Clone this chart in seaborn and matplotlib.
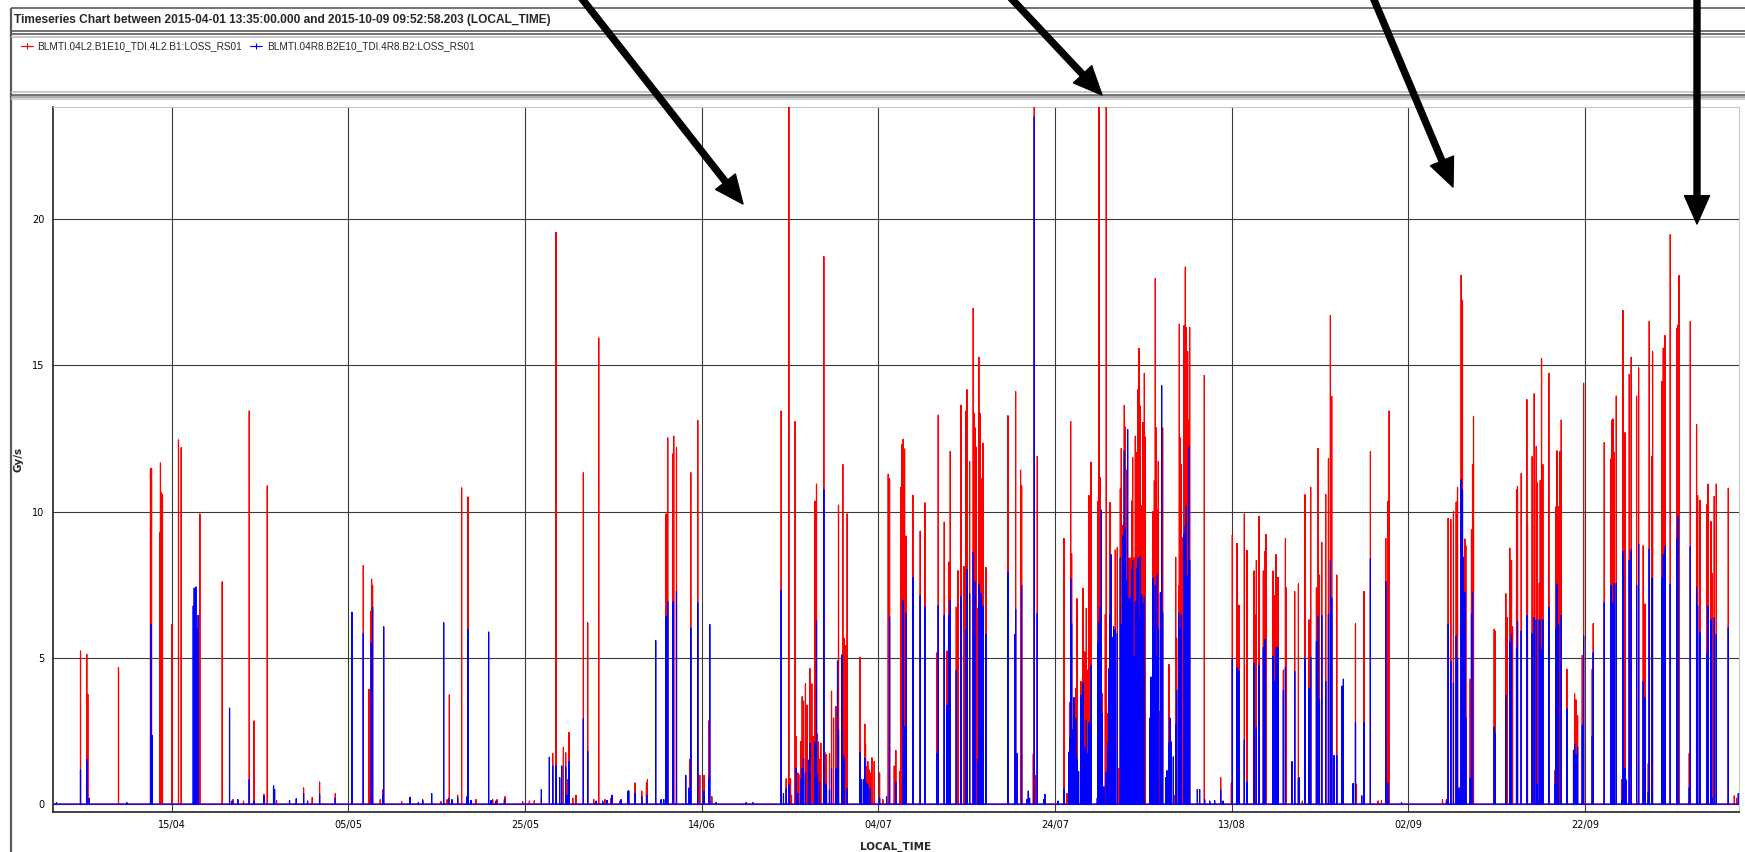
import pandas as pd
import seaborn as sns
import matplotlib.pyplot as plt
import matplotlib.dates as mdates
from matplotlib.lines import Line2D
from matplotlib.patches import FancyArrowPatch

# time span of the chart
start = pd.Timestamp('2015-04-01 13:35:00.000')
end = pd.Timestamp('2015-10-09 09:52:58.203')
origin = pd.Timestamp('2015-04-01')

title = 'Timeseries Chart between 2015-04-01 13:35:00.000 and 2015-10-09 09:52:58.203 (LOCAL_TIME)'
red_name = 'BLMTI.04L2.B1E10_TDI.4L2.B1:LOSS_RS01'
blue_name = 'BLMTI.04R8.B2E10_TDI.4R8.B2:LOSS_RS01'

# loss spikes: (days after 2015-04-01 00:00, Gy/s)
red_spikes = [
    (3.68, 5.23), (4.39, 5.12), (4.51, 3.75), (7.98, 4.67), (11.60, 11.48), (11.72, 11.48),
    (12.66, 9.27), (12.73, 11.66), (12.85, 10.64), (12.96, 10.58), (14.02, 6.14), (14.77, 12.45),
    (15.08, 12.19), (17.19, 9.92), (19.72, 7.6), (20.93, 0.15), (22.13, 0.1), (22.78, 13.44),
    (23.31, 2.84), (24.44, 0.33), (24.82, 10.88), (25.87, 0.12), (28.93, 0.55), (29.91, 0.22),
    (30.74, 0.75), (32.52, 0.35), (35.69, 8.16), (36.33, 3.92), (36.56, 6.6), (36.63, 7.69),
    (36.74, 7.48), (37.61, 0.15), (37.88, 0.48),
    (40.03, 0.08), (42.41, 0.15), (44.48, 0.08), (45.16, 0.15), (45.43, 3.73), (46.37, 0.3),
    (46.82, 10.81), (47.54, 10.5), (48.45, 0.15), (50.34, 0.15), (50.83, 0.15), (51.73, 0.25),
    (53.73, 0.08), (54.49, 0.1), (55.05, 0.12), (55.85, 0.2), (57.13, 1.73), (57.51, 19.55),
    (58.34, 1.94), (58.60, 1.75), (58.83, 0.83), (58.98, 2.45), (59.40, 0.2), (59.77, 0.3),
    (60.60, 11.33), (61.09, 6.2), (61.77, 0.15), (62.34, 15.94), (63.06, 0.15), (63.74, 0.2),
    (64.76, 0.1), (66.45, 0.72), (67.21, 0.44), (67.74, 0.72), (67.85, 0.83), (69.40, 0.08),
    (69.96, 9.92), (70.15, 12.52), (70.72, 11.97), (70.83, 12.58), (71.14, 12.2), (72.65, 1.53),
    (72.76, 11.33), (73.55, 13.12), (73.78, 0.98), (74.27, 0.98), (74.80, 2.84), (75.14, 0.25),
    (82.99, 13.44), (83.56, 0.86), (83.86, 24.5), (84.05, 0.86), (84.16, 0.3), (84.57, 13.08),
    (84.69, 2.31), (84.88, 1.06), (84.99, 1.0), (85.22, 2.14), (85.37, 3.67), (85.52, 3.52),
    (85.74, 4.11), (85.93, 3.38), (86.01, 1.44), (86.24, 4.63), (86.46, 4.11), (86.61, 2.31),
    (86.80, 10.36), (86.99, 10.94), (87.10, 2.39), (87.18, 2.12), (87.33, 1.53), (87.48, 2.08),
    (87.82, 18.72), (87.93, 1.77), (88.12, 1.69), (88.46, 1.72), (88.69, 3.86), (88.92, 2.94),
    (89.18, 3.33), (89.37, 3.88), (89.48, 10.22), (89.97, 11.61), (90.12, 5.67), (90.27, 5.41),
    (90.46, 9.92), (91.90, 5.02), (92.46, 2.73), (92.54, 2.05), (92.65, 1.27), (92.80, 1.45),
    (92.92, 1.17), (93.07, 1.06), (93.26, 1.58), (93.52, 1.45), (94.13, 1.06), (94.50, 0.15),
    (95.11, 11.28), (95.26, 11.13), (95.79, 1.3), (95.97, 1.83), (96.43, 1.11), (96.54, 10.83),
    (96.65, 12.3), (96.80, 12.47), (96.96, 12.14), (97.15, 9.16), (97.90, 10.56), (98.73, 9.33),
    (99.26, 10.3), (100.62, 5.17), (100.77, 13.3), (101.45, 9.64), (101.75, 5.23), (101.94, 8.27),
    (102.13, 12.06), (102.81, 6.73), (103.00, 7.98), (103.34, 13.64), (103.68, 8.12), (103.90, 13.44),
    (104.02, 14.17), (104.32, 11.72), (104.73, 16.95), (104.85, 13.36), (104.96, 12.86), (105.07, 12.2),
    (105.22, 6.69), (105.37, 15.28), (105.49, 13.36), (105.60, 11.14), (105.71, 10.67), (105.83, 12.34),
    (106.17, 8.09), (108.66, 13.28), (109.53, 14.11), (110.09, 11.42), (110.21, 10.88), (111.53, 1.7),
    (111.64, 24.5), (111.79, 0.98), (111.98, 11.89), (115.00, 9.08), (115.34, 0.36), (115.53, 1.53),
    (115.64, 3.48), (115.76, 13.08), (115.87, 8.55), (116.36, 3.95), (116.47, 7.02), (116.93, 4.19),
    (117.15, 7.38), (117.34, 5.2), (117.53, 6.69), (117.64, 4.58), (117.83, 10.55), (118.06, 11.69),
    (118.85, 10.36), (118.96, 24.5), (119.11, 11.17), (119.34, 3.77), (119.68, 6.48), (119.79, 24.5),
    (119.94, 3.09), (120.21, 10.31), (120.81, 8.69), (121.04, 8.77), (121.23, 1.22), (121.38, 10.78),
    (121.49, 12.16), (121.68, 9.53), (121.83, 13.63), (121.95, 12.89), (122.10, 11.42), (122.36, 8.41),
    (122.51, 8.41), (122.66, 10.36), (122.78, 11.84), (122.93, 8.41), (123.08, 12.58), (123.23, 12.03),
    (123.38, 14.17), (123.49, 15.58), (123.64, 13.61), (123.80, 10.2), (123.95, 13.05), (124.10, 14.73),
    (124.21, 12.55), (124.97, 1.81), (125.08, 10.0), (125.23, 11.06), (125.34, 17.97), (125.46, 12.86),
    (125.57, 10.05), (125.68, 11.72), (125.80, 3.17), (126.17, 12.86), (126.89, 4.77), (127.00, 2.2),
    (127.15, 2.0), (127.53, 0.28), (127.65, 8.44), (127.76, 5.67), (127.99, 7.47), (128.06, 16.41),
    (128.17, 12.52), (128.29, 11.61), (128.40, 9.11), (128.59, 16.36), (128.74, 18.36), (128.85, 16.3),
    (129.00, 15.47), (129.12, 13.13), (129.23, 16.3), (130.89, 14.66), (132.74, 0.9), (133.95, 0.72),
    (134.06, 9.19), (134.59, 8.91), (134.82, 6.8), (135.42, 9.92), (135.72, 8.67), (136.52, 7.97),
    (136.59, 6.48), (136.78, 8.33), (137.08, 9.84), (137.57, 7.97), (137.76, 8.64), (137.88, 9.22),
    (138.67, 7.97), (138.82, 7.13), (139.01, 8.53), (139.23, 7.75), (139.84, 4.58), (140.07, 9.08),
    (140.18, 7.39), (141.12, 7.27), (141.54, 7.53), (141.99, 0.1), (142.29, 10.58), (142.75, 6.3),
    (142.93, 10.83), (143.58, 7.39), (143.77, 12.16), (143.92, 7.83), (144.18, 8.95), (144.63, 10.59),
    (144.94, 11.81), (145.16, 16.7), (145.31, 13.94), (145.88, 7.83), (148.00, 6.17), (148.11, 0.67),
    (148.97, 7.27), (149.69, 12.05), (150.56, 0.1), (150.94, 0.12), (151.43, 9.08), (151.58, 2.23),
    (151.69, 10.36), (151.81, 13.44),
    (157.85, 0.15), (158.30, 0.15), (158.49, 9.77), (158.79, 9.73), (159.09, 10.0), (159.40, 10.33),
    (159.55, 10.83), (159.96, 18.08), (160.11, 17.23), (160.38, 9.06), (160.49, 8.83), (160.98, 4.27),
    (161.13, 9.38), (161.25, 11.61), (161.36, 13.25), (163.70, 5.98), (163.81, 5.91), (165.02, 7.19),
    (165.17, 6.38), (165.47, 8.75), (165.66, 8.33), (165.78, 6.06), (166.23, 10.75), (166.34, 10.86),
    (166.76, 11.3), (167.40, 13.83), (167.47, 9.63), (168.00, 11.88), (168.23, 14.03), (168.46, 12.23),
    (168.57, 10.98), (168.80, 7.55), (168.91, 11.06), (169.06, 15.23), (169.21, 11.61), (169.89, 14.73),
    (170.57, 1.14), (170.68, 10.16), (170.80, 12.08), (170.99, 10.16), (171.14, 12.05), (171.29, 13.13),
    (171.93, 4.61), (172.80, 3.77), (172.95, 3.56), (173.14, 3.02), (173.67, 5.08), (173.82, 14.39),
    (174.80, 4.61), (174.91, 6.17), (176.16, 12.36), (176.91, 11.8), (177.03, 13.13), (177.14, 13.17),
    (177.29, 12.03), (177.52, 13.95), (178.12, 0.83), (178.27, 16.88), (178.50, 12.7), (178.99, 14.69),
    (179.21, 15.28), (179.82, 13.95), (180.05, 14.92), (180.57, 8.83), (180.76, 6.84), (181.14, 1.38),
    (181.25, 16.5), (181.56, 11.89), (181.63, 15.47), (182.69, 14.45), (182.84, 15.59), (183.03, 16.02),
    (183.63, 19.47), (184.39, 16.27), (184.50, 16.38), (184.61, 18.08), (185.78, 1.73), (185.90, 16.5),
    (186.61, 12.98), (186.73, 10.55), (186.99, 10.39), (187.75, 10.23), (187.90, 10.94), (188.24, 9.66),
    (188.35, 7.89), (188.61, 10.52), (188.84, 10.94), (190.20, 10.8), (190.88, 0.28), (191.14, 0.2),
]

blue_spikes = [
    (0.96, 0.05), (3.68, 1.17), (4.39, 1.53), (4.66, 0.2), (8.92, 0.05), (11.64, 6.14), (11.79, 2.34),
    (16.44, 6.77), (16.55, 7.38), (16.74, 7.42), (16.89, 6.0), (17.00, 6.45), (20.55, 3.28), (20.81, 0.1),
    (21.49, 0.15), (22.78, 0.83), (23.31, 0.1), (24.44, 0.25), (25.53, 0.62), (25.65, 0.5), (27.34, 0.12),
    (28.10, 0.18), (28.93, 0.36), (29.38, 0.1), (30.74, 0.33), (32.52, 0.2), (34.40, 6.56), (35.69, 5.83),
    (36.59, 5.5), (36.74, 6.73), (37.88, 0.3), (38.00, 6.06),
    (40.97, 0.23), (41.92, 0.05), (42.41, 0.12), (43.43, 0.36), (44.79, 6.2), (45.35, 0.2), (45.73, 0.15),
    (46.37, 0.2), (47.43, 0.25), (47.54, 5.98), (47.88, 0.12), (49.88, 5.88), (50.15, 0.12), (50.71, 0.1),
    (51.66, 0.15), (55.85, 0.5), (56.75, 1.6), (57.13, 1.3), (57.51, 1.3), (57.92, 0.9), (58.15, 1.3),
    (58.60, 1.27), (58.79, 0.3), (58.98, 1.45), (60.60, 2.92), (61.09, 1.8), (62.04, 0.1), (62.79, 0.1),
    (63.28, 0.12), (63.85, 0.3), (64.87, 0.15), (65.62, 0.44), (65.74, 0.45), (66.45, 0.36), (67.21, 0.25),
    (67.78, 0.3), (68.79, 5.59), (69.40, 0.15), (69.70, 0.15), (69.96, 6.42), (70.15, 6.92), (70.76, 6.92),
    (71.14, 7.27), (72.19, 0.98), (72.57, 0.55), (72.76, 6.02), (73.55, 6.88), (74.27, 0.44), (74.80, 0.86),
    (74.91, 6.14), (75.63, 0.05),
    (79.03, 0.05), (79.78, 0.05), (82.99, 7.31), (83.25, 0.36), (83.56, 0.52), (83.86, 0.67), (84.69, 1.22),
    (84.88, 0.36), (85.22, 0.83), (85.37, 1.22), (85.52, 1.56), (85.74, 1.06), (86.08, 1.5), (86.24, 2.08),
    (86.80, 2.11), (86.99, 6.28), (87.10, 1.0), (87.33, 0.72), (87.82, 10.75), (87.93, 0.72), (88.12, 0.67),
    (88.46, 0.48), (88.69, 1.22), (89.18, 1.2), (89.37, 4.89), (89.48, 2.55), (89.86, 5.1), (89.97, 1.67),
    (90.12, 1.58), (90.46, 0.52), (91.90, 1.77), (92.09, 0.83), (92.31, 0.83), (92.46, 1.56), (92.65, 0.72),
    (92.80, 0.67), (93.07, 0.52), (94.13, 0.2), (94.92, 0.25), (95.26, 6.4), (95.97, 0.75), (96.80, 6.95),
    (96.96, 2.64), (97.15, 6.53), (97.90, 7.75), (98.73, 7.13), (99.26, 6.75), (100.62, 1.73), (100.77, 6.78),
    (101.45, 6.45), (101.75, 3.38), (101.94, 6.45), (102.13, 6.95), (102.81, 4.58), (103.34, 7.11),
    (103.90, 5.95), (104.02, 8.02), (104.32, 7.2), (104.73, 8.61), (104.85, 5.8), (104.96, 7.59),
    (105.22, 1.53), (105.37, 7.5), (105.49, 2.47), (105.60, 7.2), (105.83, 6.77), (106.17, 5.8),
    (108.66, 7.92), (109.45, 5.8), (109.53, 6.66), (109.72, 1.73), (110.21, 7.48), (110.81, 0.15),
    (110.96, 0.44), (111.11, 0.2), (111.64, 23.5), (111.98, 6.52), (112.70, 0.15), (112.85, 0.33),
    (114.32, 0.1), (115.00, 0.52), (115.53, 1.77), (115.64, 2.27), (115.76, 7.7), (115.87, 6.17),
    (116.02, 2.55), (116.13, 3.64), (116.36, 2.94), (116.47, 1.53), (116.66, 1.11), (116.93, 3.72),
    (117.15, 4.14), (117.34, 1.92), (117.53, 2.86), (117.64, 1.73), (117.83, 2.78), (118.06, 4.73),
    (118.77, 0.2), (118.85, 5.52), (118.96, 6.22), (119.11, 6.73), (119.23, 10.05), (119.34, 3.09),
    (119.53, 0.59), (119.79, 1.09), (119.94, 2.08), (120.10, 4.63), (120.21, 6.48), (120.32, 8.53),
    (120.47, 5.7), (120.62, 6.06), (120.81, 5.98), (121.04, 5.83), (121.38, 8.41), (121.49, 6.14),
    (121.68, 9.16), (121.83, 12.08), (121.95, 9.38), (122.10, 7.63), (122.21, 12.81), (122.36, 7.0),
    (122.51, 7.05), (122.66, 8.02), (122.78, 8.33), (122.93, 5.05), (123.08, 6.92), (123.23, 8.05),
    (123.38, 8.41), (123.49, 6.34), (123.64, 8.48), (123.80, 7.16), (123.95, 6.84), (124.10, 7.08),
    (124.74, 2.94), (124.85, 4.34), (125.08, 7.73), (125.23, 6.06), (125.34, 7.47), (125.46, 5.05),
    (125.57, 7.86), (125.68, 5.98), (125.91, 7.23), (126.06, 14.31), (126.17, 6.53), (126.51, 0.9),
    (126.66, 1.14), (126.89, 2.08), (127.00, 2.94), (127.15, 2.12), (127.38, 1.61), (127.65, 2.73),
    (127.76, 3.88), (127.99, 6.53), (128.06, 4.89), (128.17, 5.98), (128.29, 6.48), (128.59, 9.22),
    (128.74, 9.5), (128.85, 10.2), (129.00, 7.81), (129.12, 12.23), (129.23, 8.33), (130.10, 0.5),
    (130.36, 0.5), (130.93, 0.15), (131.50, 0.1), (132.06, 0.12), (132.74, 0.48), (133.01, 0.1),
    (134.06, 4.97), (134.59, 4.66), (134.82, 4.55), (135.42, 2.19), (135.72, 0.75), (136.52, 4.81),
    (136.78, 2.63), (137.08, 4.73), (137.57, 5.36), (137.76, 5.64), (138.67, 5.05), (138.82, 4.19),
    (139.01, 5.36), (139.23, 5.36), (139.84, 3.88), (140.07, 4.66), (140.82, 1.45), (141.12, 4.53),
    (141.54, 0.88), (141.65, 0.9), (142.29, 4.97), (142.75, 3.95), (142.93, 5.02), (143.58, 5.56),
    (143.77, 6.42), (143.92, 3.56), (144.18, 6.45), (144.63, 4.19), (144.94, 6.48), (145.16, 8.33),
    (145.31, 7.05), (145.58, 1.66), (145.88, 1.66), (146.48, 4.03), (146.63, 4.27), (147.73, 0.7),
    (148.00, 2.78), (148.71, 0.28), (148.97, 2.78), (149.69, 8.38), (151.43, 7.6), (151.69, 0.72),
    (153.21, 0.05), (158.30, 0.1), (158.49, 6.14), (158.79, 4.89), (159.09, 4.14), (159.40, 5.75),
    (159.55, 4.97), (159.74, 0.55), (159.96, 11.09), (160.11, 10.75), (160.19, 8.44), (160.38, 7.23),
    (160.49, 2.94), (160.98, 0.88), (161.13, 6.5), (161.25, 7.23), (163.70, 2.63), (163.81, 2.42),
    (165.02, 3.72), (165.47, 5.55), (165.66, 5.83), (166.23, 5.33), (166.34, 6.25), (166.76, 5.91),
    (167.40, 6.45), (168.00, 5.83), (168.23, 6.38), (168.46, 6.3), (168.57, 0.67), (168.80, 6.3),
    (168.91, 6.27), (169.06, 5.28), (169.21, 6.3), (169.89, 6.73), (170.57, 0.67), (170.68, 5.98),
    (170.80, 7.52), (170.99, 6.14), (171.29, 6.45), (171.93, 3.25), (172.68, 1.84), (172.80, 2.05),
    (172.95, 1.69), (173.14, 1.95), (173.67, 2.7), (173.82, 5.75), (174.80, 2.31), (174.91, 5.17),
    (176.16, 6.88), (176.91, 7.47), (177.03, 6.88), (177.14, 6.77), (177.29, 7.55), (177.52, 7.55),
    (178.12, 0.12), (178.27, 8.64), (178.50, 1.22), (178.61, 0.83), (178.99, 8.33), (179.21, 8.69),
    (179.82, 7.47), (180.05, 8.88), (180.57, 4.19), (180.76, 3.64), (181.14, 0.41), (181.25, 8.72),
    (181.56, 7.73), (182.69, 7.75), (182.84, 8.53), (183.03, 8.8), (183.63, 7.52), (184.39, 9.06),
    (184.50, 9.84), (185.78, 0.55), (185.90, 8.8), (186.61, 7.39), (186.73, 6.77), (186.99, 5.88),
    (187.75, 5.12), (187.90, 6.77), (188.24, 6.3), (188.35, 0.2), (188.61, 6.38), (188.84, 5.8),
    (190.20, 6.03), (191.33, 0.36), (191.38, 0.36),
]

tick_dates = ['2015-04-15', '2015-05-05', '2015-05-25', '2015-06-14', '2015-07-04',
              '2015-07-24', '2015-08-13', '2015-09-02', '2015-09-22']
y_ticks = [0, 5, 10, 15, 20]


def spike_frame(spikes):
    # each spike goes up from the zero line and straight back down
    rows = [(start, 0.0)]
    for day, gy in sorted(spikes):
        t = origin + pd.to_timedelta(day, unit='D')
        rows += [(t, 0.0), (t, gy), (t, 0.0)]
    rows.append((end, 0.0))
    return pd.DataFrame(rows, columns=['LOCAL_TIME', 'Gy/s'])


red_df = spike_frame(red_spikes)
blue_df = spike_frame(blue_spikes)

sns.set_style('white')
plt.rcParams['font.family'] = ['DejaVu Sans']

W, H = 1745, 852
fig = plt.figure(figsize=(W / 100, H / 100), dpi=100)


def fx(x):
    return x / W


def fy(y):
    return 1 - y / H


ax = fig.add_axes([fx(53), fy(812), fx(1739) - fx(53), fy(107) - fy(812)])

sns.lineplot(data=red_df, x='LOCAL_TIME', y='Gy/s', color='#ff0000', lw=0.85,
             estimator=None, sort=False, ax=ax, zorder=3)
sns.lineplot(data=blue_df, x='LOCAL_TIME', y='Gy/s', color='#0000ff', lw=0.85,
             estimator=None, sort=False, ax=ax, zorder=4)

ax.set_xlim(start, end)
ax.set_ylim(-0.27, 23.84)
ax.set_xticks(pd.to_datetime(tick_dates))
ax.xaxis.set_major_formatter(mdates.DateFormatter('%d/%m'))
ax.set_yticks(y_ticks)
ax.grid(True, color='#3a3a3a', lw=0.8)
ax.set_axisbelow(True)
ax.tick_params(direction='out', length=3.5, width=0.8, labelsize=7, pad=2.5, colors='black')
for side in ['top', 'right']:
    ax.spines[side].set_color('#c8c8c8')
    ax.spines[side].set_linewidth(0.8)
for side in ['left', 'bottom']:
    ax.spines[side].set_color('#222222')
    ax.spines[side].set_linewidth(1.2)
ax.set_xlabel('LOCAL_TIME', fontsize=7.5, fontweight='bold', labelpad=8)
ax.set_ylabel('Gy/s', fontsize=7.5, fontweight='bold', labelpad=6)

# window frames around title, legend and chart panel
frame = dict(transform=fig.transFigure, solid_capstyle='butt')
fig.add_artist(Line2D([fx(11), fx(11)], [fy(8), fy(852)], color='#5a5a5a', lw=1.6, **frame))
for y, c in [(8, '#5a5a5a'), (31, '#5a5a5a'), (34, '#5a5a5a'), (37, '#c0c0c0'),
             (92, '#c0c0c0'), (95, '#5a5a5a'), (97, '#a0a0a0'), (99, '#c8c8c8')]:
    fig.add_artist(Line2D([fx(11), fx(W)], [fy(y), fy(y)], color=c, lw=1.2, **frame))

fig.text(fx(14), fy(19.5), title, fontsize=8.6, fontweight='bold', va='center',
         family=['Liberation Sans', 'DejaVu Sans'])

handles = [Line2D([], [], color='#ff0000', lw=0.8, marker='+', ms=4, mew=0.8),
           Line2D([], [], color='#0000ff', lw=0.8, marker='+', ms=4, mew=0.8)]
fig.legend(handles, [red_name, blue_name], loc='upper left', bbox_to_anchor=(fx(21), fy(41)),
           ncol=2, frameon=False, handlelength=1.2, handletextpad=0.45, columnspacing=0.8,
           borderaxespad=0, borderpad=0, prop={'family': 'Liberation Sans', 'size': 7.2})

# black annotation arrows drawn over the chart
for (x0, y0), (x1, y1) in [((579, -5), (743, 204)), ((1008, -5), (1102, 95)),
                           ((1372, -5), (1453, 187)), ((1697, -5), (1697, 224))]:
    fig.add_artist(FancyArrowPatch((fx(x0), fy(y0)), (fx(x1), fy(y1)), transform=fig.transFigure,
                                   arrowstyle='simple,head_length=0.85,head_width=0.75,tail_width=0.18',
                                   mutation_scale=24, color='black', shrinkA=0, shrinkB=0, zorder=10))

fig.savefig('out.png', dpi=100)
